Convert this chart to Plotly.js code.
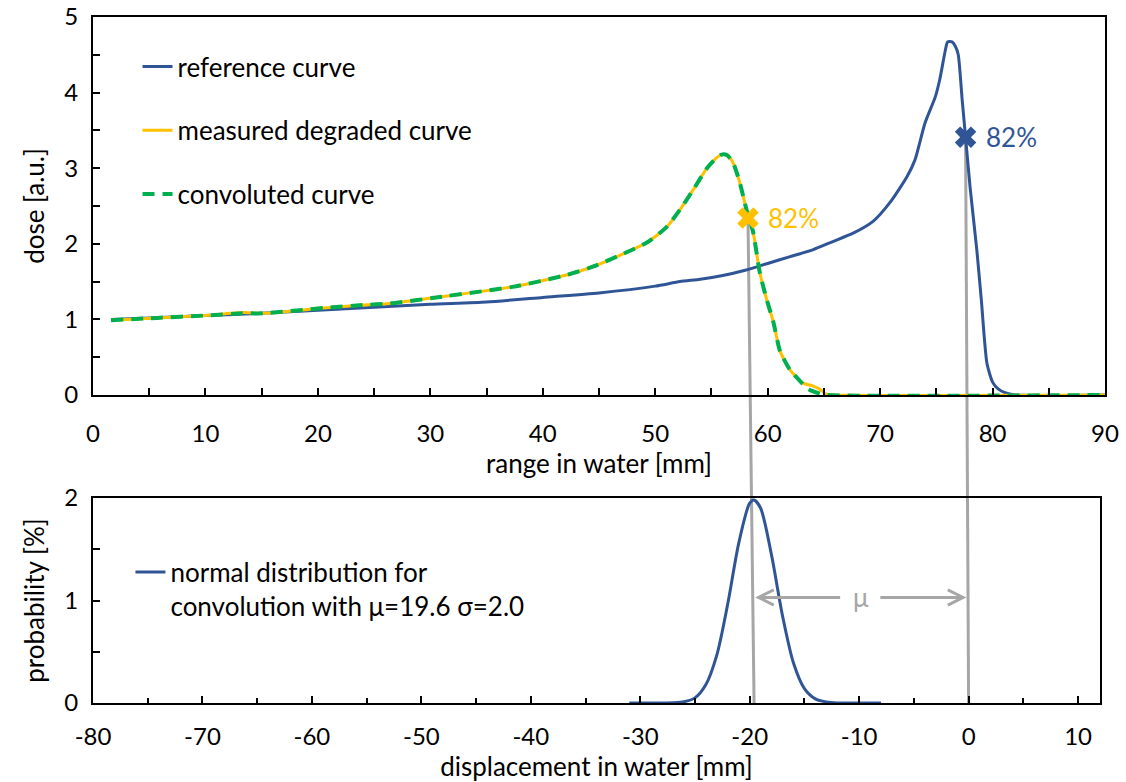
<!DOCTYPE html>
<html>
<head>
<meta charset="utf-8">
<script src="https://cdn.plot.ly/plotly-3.0.1.min.js"></script>
<style>html,body{margin:0;padding:0;background:#fff;}#chart{width:1126px;height:782px;}</style>
</head>
<body>
<div id="chart"></div>
<script>
// ---- data ----
const refX = [1.6, 5, 10, 15, 20, 25, 30, 35, 40, 45, 50, 52.2, 54, 56, 58, 60, 62, 64, 65.8, 67.6, 69.4, 70.9, 72.4, 73.1, 74.0, 74.9, 75.3, 75.8, 76.0, 76.4, 76.7, 76.95, 77.3, 77.6, 78.0, 78.6, 79.0, 79.5, 80.0, 80.5, 81.1, 82, 90];
const refY = [1.00, 1.02, 1.05, 1.08, 1.12, 1.16, 1.20, 1.23, 1.29, 1.35, 1.44, 1.50, 1.53, 1.58, 1.65, 1.74, 1.83, 1.92, 2.03, 2.14, 2.30, 2.55, 2.89, 3.11, 3.60, 3.94, 4.17, 4.56, 4.67, 4.67, 4.61, 4.50, 3.90, 3.41, 2.75, 1.92, 1.26, 0.42, 0.17, 0.08, 0.03, 0.00, 0.00];

const measX = [1.6, 5.7, 9.8, 13.3, 15.1, 20.5, 24.0, 26.4, 31.5, 37.3, 42.2, 44.5, 46.9, 49.3, 51.0, 52.2, 53.4, 54.6, 55.4, 55.9, 56.4, 56.9, 57.5, 58.1, 58.7, 59.3, 59.9, 60.5, 61.1, 62.0, 63.1, 64.0, 64.6, 65.2, 65.8, 90];
const measY = [0.99, 1.02, 1.05, 1.09, 1.08, 1.15, 1.19, 1.21, 1.31, 1.43, 1.59, 1.70, 1.85, 2.02, 2.22, 2.45, 2.72, 3.00, 3.13, 3.18, 3.17, 3.08, 2.82, 2.46, 2.16, 1.62, 1.27, 0.97, 0.58, 0.33, 0.16, 0.12, 0.08, 0.01, 0.00, 0.00];

const convX = [1.6, 5.7, 9.8, 13.3, 15.1, 20.5, 24.0, 26.4, 31.5, 37.3, 42.2, 44.5, 46.9, 49.3, 51.0, 52.2, 53.4, 54.6, 55.4, 55.9, 56.4, 56.9, 57.5, 58.1, 58.7, 59.3, 59.9, 60.5, 61.1, 62.0, 63.1, 63.5, 64.0, 64.6, 65.2, 90];
const convY = [0.99, 1.02, 1.05, 1.08, 1.08, 1.15, 1.19, 1.21, 1.31, 1.43, 1.59, 1.70, 1.85, 2.02, 2.22, 2.45, 2.72, 3.00, 3.13, 3.18, 3.17, 3.08, 2.82, 2.46, 2.16, 1.62, 1.27, 0.97, 0.58, 0.33, 0.15, 0.09, 0.05, 0.02, 0.00, 0.00];

const normX = [-31, -29, -28, -27, -26, -25, -24, -23, -22, -21, -20, -19.6, -19, -18, -17, -16, -15, -14, -13, -12, -11, -8];
const normY = [0.00, 0.00, 0.00, 0.002, 0.012, 0.05, 0.18, 0.47, 0.97, 1.56, 1.95, 1.98, 1.90, 1.44, 0.85, 0.39, 0.14, 0.04, 0.01, 0.00, 0.00, 0.00];

const ref82X = [77.6], ref82Y = [3.41];
const meas82X = [58.25], meas82Y = [2.34];
const label82 = '82%';
const shiftX = [-19.6, 0];      // positions in the displacement axis
const muLabel = 'μ';
const dispTickVals = [-80, -70, -60, -50, -40, -30, -20, -10, 0, 10];
const dispTickText = ['-80', '-70', '-60', '-50', '-40', '-30', '-20', '-10', '0', '10'];
const traceNames = ['reference curve', 'measured degraded curve', 'convoluted curve', 'normal distribution for<br>convolution with μ=19.6 σ=2.0'];

// ---- styles ----
const BLUE = '#2F5597', YELLOW = '#FFC000', GREEN = '#00B050', GREY = '#A6A6A6';
const FONT = 'Lato, "Open Sans", sans-serif';
const FS = 26, TFS = 24;

// axis geometry
const xDom = [0, 1], x2Dom = [0, 0.995];
const yDom = [0.449, 1], y2Dom = [0, 0.2988];
const xRange = [0, 90], x2Range = [-80, 12];
const yRange = [0, 5], y2Range = [0, 2];
const toPaper = (v, r, d) => d[0] + (v - r[0]) / (r[1] - r[0]) * (d[1] - d[0]);

const traces = [
  {x: refX, y: refY, name: traceNames[0], type: 'scatter', mode: 'lines',
   line: {color: BLUE, width: 3, shape: 'spline', smoothing: 0.6}, xaxis: 'x', yaxis: 'y', legendgroup: 'a'},
  {x: measX, y: measY, name: traceNames[1], type: 'scatter', mode: 'lines',
   line: {color: YELLOW, width: 3, shape: 'spline', smoothing: 0.6}, xaxis: 'x', yaxis: 'y', legendgroup: 'b'},
  {x: convX, y: convY, name: traceNames[2], type: 'scatter', mode: 'lines',
   line: {color: GREEN, width: 4, dash: '12px,8px', shape: 'spline', smoothing: 0.6}, xaxis: 'x', yaxis: 'y', legendgroup: 'c'},
  {x: meas82X, y: meas82Y, type: 'scatter', mode: 'markers', showlegend: false,
   marker: {symbol: 'x', size: 19, color: YELLOW}, xaxis: 'x', yaxis: 'y', cliponaxis: false},
  {x: ref82X, y: ref82Y, type: 'scatter', mode: 'markers', showlegend: false,
   marker: {symbol: 'x', size: 19, color: BLUE}, xaxis: 'x', yaxis: 'y', cliponaxis: false},
  {x: normX, y: normY, name: traceNames[3], type: 'scatter', mode: 'lines',
   line: {color: BLUE, width: 3, shape: 'spline', smoothing: 0.8}, xaxis: 'x2', yaxis: 'y2', legend: 'legend2'}
];

// grey connectors from the 82% points down to the displacement axis
const shapes = [
  {type: 'line', xref: 'paper', yref: 'paper', layer: 'below',
   x0: toPaper(meas82X[0], xRange, xDom), y0: toPaper(meas82Y[0], yRange, yDom),
   x1: toPaper(shiftX[0], x2Range, x2Dom), y1: toPaper(0, y2Range, y2Dom),
   line: {color: GREY, width: 3}},
  {type: 'line', xref: 'paper', yref: 'paper', layer: 'below',
   x0: toPaper(ref82X[0], xRange, xDom), y0: toPaper(ref82Y[0], yRange, yDom),
   x1: toPaper(shiftX[1], x2Range, x2Dom), y1: toPaper(0, y2Range, y2Dom),
   line: {color: GREY, width: 3}}
];

const muY = 1.03;
const annotations = [
  {xref: 'x', yref: 'y', x: meas82X[0], y: meas82Y[0], text: label82, showarrow: false,
   xanchor: 'left', xshift: 18, font: {color: YELLOW, size: FS, family: FONT}},
  {xref: 'x', yref: 'y', x: ref82X[0], y: ref82Y[0], text: label82, showarrow: false,
   xanchor: 'left', xshift: 18, font: {color: BLUE, size: FS, family: FONT}},
  {xref: 'x2', yref: 'y2', x: shiftX[0] + 0.1, y: muY, axref: 'x2', ayref: 'y2', ax: -11.6, ay: muY,
   text: '', showarrow: true, arrowhead: 5, arrowsize: 1, arrowwidth: 3, arrowcolor: GREY},
  {xref: 'x2', yref: 'y2', x: shiftX[1] - 0.2, y: muY, axref: 'x2', ayref: 'y2', ax: -8.2, ay: muY,
   text: '', showarrow: true, arrowhead: 5, arrowsize: 1, arrowwidth: 3, arrowcolor: GREY},
  {xref: 'x2', yref: 'y2', x: (shiftX[0] + shiftX[1]) / 2, y: muY, text: muLabel, showarrow: false,
   font: {color: GREY, size: FS, family: FONT}}
];

const axisCommon = {
  showgrid: false, zeroline: false, showline: true, mirror: true, linecolor: '#000', linewidth: 2,
  ticks: 'inside', ticklen: 7, tickwidth: 2, tickcolor: '#000',
  tickfont: {size: TFS, family: FONT, color: '#000'}, fixedrange: true
};

const layout = {
  width: 1126, height: 782,
  margin: {l: 93, r: 21, t: 17, b: 79},
  paper_bgcolor: '#fff', plot_bgcolor: 'rgba(0,0,0,0)',
  font: {family: FONT, size: FS, color: '#000'},
  xaxis: Object.assign({}, axisCommon, {domain: xDom, range: xRange, anchor: 'y', dtick: 10, tick0: 0,
    minor: {dtick: 5, ticks: 'inside', ticklen: 7, tickwidth: 2, tickcolor: '#000'}, ticklabelstandoff: 16,
    title: {text: 'range in water [mm]', font: {size: FS, family: FONT}, standoff: 0}}),
  yaxis: Object.assign({}, axisCommon, {domain: yDom, range: yRange, anchor: 'x', dtick: 1, tick0: 0,
    minor: {dtick: 0.5, ticks: 'inside', ticklen: 7, tickwidth: 2, tickcolor: '#000'}, ticklabelstandoff: 8,
    title: {text: 'dose [a.u.]', font: {size: FS, family: FONT}, standoff: 12}}),
  xaxis2: Object.assign({}, axisCommon, {domain: x2Dom, range: x2Range, anchor: 'y2',
    tickmode: 'array', tickvals: dispTickVals, ticktext: dispTickText,
    minor: {dtick: 5, tick0: 0, ticks: 'inside', ticklen: 5, tickwidth: 2, tickcolor: '#000'}, ticklabelstandoff: 11,
    title: {text: 'displacement in water [mm]', font: {size: FS, family: FONT}, standoff: 2}}),
  yaxis2: Object.assign({}, axisCommon, {domain: y2Dom, range: y2Range, anchor: 'x2', dtick: 1, tick0: 0,
    minor: {dtick: 0.5, ticks: 'inside', ticklen: 7, tickwidth: 2, tickcolor: '#000'}, ticklabelstandoff: 8,
    title: {text: 'probability [%]', font: {size: FS, family: FONT}, standoff: 12}}),
  legend: {x: 0.044, y: 0.962, xanchor: 'left', yanchor: 'top', bgcolor: 'rgba(0,0,0,0)',
    font: {size: FS, family: FONT}, tracegroupgap: 27, traceorder: 'grouped'},
  legend2: {x: 0.037, y: 0.225, xanchor: 'left', yanchor: 'top', bgcolor: 'rgba(0,0,0,0)',
    font: {size: FS, family: FONT}, valign: 'top'},
  shapes: shapes,
  annotations: annotations,
  showlegend: true
};

Plotly.newPlot('chart', traces, layout, {staticPlot: true, displayModeBar: false});
</script>
</body>
</html>
